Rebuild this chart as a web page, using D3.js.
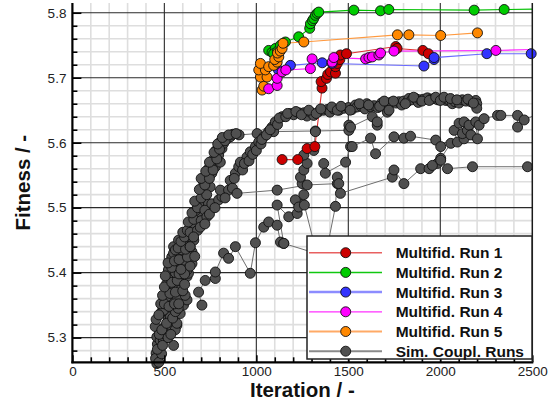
<!DOCTYPE html>
<html>
<head>
<meta charset="utf-8">
<script src="https://cdn.jsdelivr.net/npm/d3@7"></script>
<style>
  body { margin: 0; background: #fff; }
  svg { display: block; }
</style>
</head>
<body>
<div id="chart"></div>
<script>
// ---- data: [iteration, fitness] ----
const run1 = [[1140,5.574],[1225,5.574],[1276,5.591],[1318,5.594],[1357,5.684],[1352,5.694],[1381,5.699],
  [1388,5.705],[1403,5.709],[1430,5.707],[1430,5.717],[1421,5.724],[1440,5.722],[1454,5.728],[1457,5.735],
  [1490,5.737],[1758,5.748],[1765,5.745],[1905,5.742],[1935,5.737]];
const run2 = [[1067,5.742],[1085,5.739],[1103,5.745],[1094,5.737],[1115,5.741],[1131,5.750],[1158,5.755],
  [1230,5.763],[1290,5.776],[1294,5.783],[1305,5.788],[1312,5.791],[1321,5.796],[1330,5.799],[1339,5.801],
  [1530,5.804],[1675,5.803],[1720,5.805],[2184,5.804],[2347,5.805],[2600,5.806]];
const run3 = [[1120,5.712],[1185,5.719],[1358,5.723],[1412,5.722],[1911,5.718],[1966,5.728],[1966,5.731],
  [2253,5.737],[2494,5.737]];
const run4 = [[1067,5.683],[1113,5.688],[1113,5.699],[1140,5.709],[1160,5.712],[1294,5.714],[1303,5.729],
  [1412,5.724],[1421,5.731],[1594,5.729],[1612,5.731],[1630,5.732],[1666,5.735],[1675,5.738],[1748,5.741],
  [2302,5.742],[2600,5.744]];
const run5 = [[1031,5.681],[1040,5.687],[1022,5.701],[1058,5.701],[1013,5.712],[1049,5.712],[1022,5.722],
  [1067,5.717],[1094,5.719],[1113,5.724],[1100,5.728],[1122,5.732],[1115,5.738],[1130,5.741],[1140,5.745],
  [1145,5.753],[1258,5.755],[1767,5.766],[1829,5.766],[2002,5.765],[2202,5.769]];

// simultaneous coupling runs (gray)
const simA = [[459,5.260],[468,5.270],[455,5.276],[477,5.286],[462,5.290],[459,5.301],[477,5.296],[495,5.296],
  [505,5.305],[550,5.288],[450,5.317],[504,5.317],[540,5.317],[568,5.319],[559,5.312],[568,5.322],[522,5.330],
  [532,5.332],[486,5.340],[495,5.342],[586,5.337],[540,5.353],[595,5.358],[604,5.350],[623,5.358],[568,5.363],
  [513,5.363],[613,5.365],[550,5.378],[522,5.378],[586,5.373],[513,5.383],[550,5.394],[595,5.388],[623,5.394],
  [532,5.399],[631,5.399],[522,5.404],[623,5.404],[568,5.409],[595,5.412],[650,5.414],[604,5.419],[540,5.424],
  [550,5.430],[586,5.430],[650,5.432],[595,5.435],[550,5.440],[604,5.442],[623,5.450],[577,5.450],[631,5.455],
  [650,5.470],[659,5.470],[677,5.486],[686,5.486],[667,5.495],[704,5.501],[690,5.508],[713,5.517],[740,5.506],
  [722,5.525],[749,5.532],[713,5.540],[731,5.547],[758,5.553],[740,5.560],[777,5.563],[760,5.572],[804,5.570],
  [795,5.581],[780,5.588],[813,5.591],[800,5.600],[822,5.599],[840,5.606],[858,5.609],[873,5.613],[906,5.612],
  [1004,5.614],[1140,5.640],[1185,5.645],[1203,5.643],[1230,5.646],[1258,5.646],[1275,5.641],[1294,5.647],
  [1312,5.642],[1340,5.648],[1366,5.650],[1385,5.651],[1400,5.647],[1420,5.652],[1450,5.650],[1476,5.653],
  [1500,5.654],[1520,5.651],[1539,5.658],[1548,5.655],[1570,5.656],[1590,5.652],[1600,5.660],[1621,5.655],
  [1640,5.657],[1660,5.654],[1680,5.661],[1703,5.660],[1715,5.655],[1730,5.662],[1760,5.661],[1775,5.663],
  [1790,5.658],[1800,5.664],[1821,5.663],[1829,5.668],[1845,5.666],[1866,5.668],[1880,5.662],[1890,5.666],
  [1910,5.667],[1930,5.669],[1950,5.667],[1966,5.668],[1985,5.666],[2010,5.668],[2030,5.665],[2047,5.665],
  [2065,5.660],[2080,5.663],[2102,5.661],[2120,5.666],[2140,5.664],[2166,5.663],[2193,5.665],[2198,5.660],
  [2198,5.653]];
const simB = [[640,5.440],[659,5.455],[695,5.470],[731,5.486],[758,5.506],[795,5.512],[813,5.517],[804,5.527],
  [849,5.527],[858,5.542],[886,5.553],[904,5.563],[913,5.570],[949,5.578],[967,5.586],[995,5.594],[1013,5.601],
  [1040,5.609],[1067,5.617],[1085,5.624],[1103,5.632],[1094,5.617],[1321,5.618],[1503,5.619],[1503,5.627],
  [1512,5.624],[1630,5.640],[1657,5.627],[1657,5.632],[1712,5.647],[1721,5.650]];
const simC = [[704,5.350],[686,5.370],[722,5.388],[777,5.391],[777,5.401],[822,5.430],[849,5.422],[886,5.440],
  [967,5.399],[995,5.446],[1040,5.470],[1067,5.478],[1113,5.473],[1131,5.447],[1149,5.445],[1113,5.504],
  [1176,5.486],[1222,5.491],[1231,5.506],[1212,5.512],[1230,5.501],[1258,5.520],[1249,5.537],[1240,5.547],
  [1258,5.558],[1276,5.568],[1258,5.581],[1312,5.588],[1321,5.617]];
const simD = [[895,5.522],[1113,5.527],[1276,5.535],[1440,5.537]];
const simE = [[1366,5.568],[1375,5.553],[1485,5.570],[1512,5.594],[1521,5.594],[1621,5.607],[1648,5.583],
  [1748,5.609],[1802,5.607],[1838,5.610],[1975,5.604],[2002,5.594],[2002,5.576],[1984,5.568],[2057,5.599],
  [2093,5.601],[2075,5.619],[2102,5.630],[2129,5.632],[2129,5.606],[2120,5.614],[2147,5.619],[2156,5.627],
  [2166,5.612],[2193,5.632],[2202,5.606],[2211,5.627],[2238,5.637],[2311,5.642],[2329,5.642],[2420,5.642],
  [2420,5.624],[2456,5.635],[2560,5.648]];
const simF = [[1365,5.410],[1430,5.502],[1440,5.547],[1448,5.537],[1457,5.522],[1739,5.547],[1748,5.558],
  [1802,5.537],[1893,5.560],[1939,5.560],[1957,5.565],[2002,5.573],[2039,5.560],[2175,5.563],[2474,5.563],
  [2600,5.565]];
const simG = [[1149,5.445],[1320,5.430]];
const simH = [[1261,5.504],[1345,5.410]];
const simJ = [[452,5.268],[470,5.262],[485,5.275],[462,5.282],[490,5.288],[472,5.305],[486,5.312],[520,5.300],
  [535,5.305],[455,5.328],[470,5.335],[512,5.322],[545,5.330],[560,5.340],[575,5.345],[480,5.352],[500,5.352],
  [525,5.348],[555,5.352],[578,5.352],[490,5.365],[530,5.368],[560,5.370],[600,5.372],[500,5.378],[540,5.385],
  [570,5.388],[610,5.382],[505,5.395],[560,5.400],[580,5.398],[610,5.398],[540,5.408],[590,5.405],[640,5.410],
  [520,5.415],[555,5.418],[580,5.420],[625,5.424],[665,5.425],[560,5.435],[575,5.438],[615,5.436],[640,5.440],
  [590,5.448],[610,5.455],[660,5.450],[600,5.462],[625,5.465],[640,5.462],[680,5.465],[630,5.478],[660,5.482],
  [700,5.480],[650,5.492],[680,5.500],[720,5.496],[665,5.510],[700,5.515],[730,5.520],[690,5.528],[720,5.535],
  [700,5.545],[745,5.545],[725,5.556],[765,5.558],[745,5.570],[785,5.575],[770,5.585],[800,5.590],[790,5.598],
  [830,5.603],[815,5.608],[850,5.612],[890,5.614]];
const simK = [[720,5.475],[745,5.490],[775,5.500],[830,5.515],[870,5.530],[880,5.545],[925,5.558],[935,5.568],
  [960,5.572],[980,5.582],[1000,5.588],[1025,5.598],[1030,5.605],[1055,5.612],[1075,5.620],[1115,5.628],
  [1125,5.638],[1160,5.640],[1170,5.645],[1215,5.648],[1245,5.643],[1285,5.650],[1325,5.645],[1350,5.652],
  [1410,5.655],[1440,5.650],[1460,5.656],[1510,5.650],[1560,5.660],[1610,5.658],[1670,5.656],[1695,5.664],
  [1745,5.664],[1810,5.660],[1855,5.670],[1900,5.664],[1940,5.665],[1975,5.670],[2000,5.665],[2020,5.670],
  [2055,5.668],[2090,5.666],[2150,5.667],[2180,5.661]];

const simRuns = [simA, simJ, simB, simK, simC, simD, simE, simF, simG, simH];

const seriesNames = ["Multifid. Run 1", "Multifid. Run 2", "Multifid. Run 3",
  "Multifid. Run 4", "Multifid. Run 5", "Sim. Coupl. Runs"];
const xTicks = [0, 500, 1000, 1500, 2000, 2500];
const yTicks = [5.3, 5.4, 5.5, 5.6, 5.7, 5.8];

// ---- layout ----
const W = 548, H = 405;
const margin = { top: 3, left: 72.4 };
const width = 459.9, height = 359.3;
const font = "'Liberation Sans', Arial, Helvetica, sans-serif";

const markerFill = ["#cc0000", "#00cc00", "#3333ff", "#ff00ff", "#ff8800", "#505050"];
const lineColor = ["#e03030", "#00c000", "#6a6aff", "#ff22ff", "#ff9a40", "#6e6e6e"];
const legendLine = ["#e86060", "#10c810", "#8c8cff", "#ff30ff", "#ffaa66", "#8a8a8a"];
const legendLineW = [1.5, 1.5, 2.5, 1.2, 2, 2];

const svgEl = d3.select("#chart").append("svg")
  .attr("width", W).attr("height", H)
  .style("font-family", font);

const svg = svgEl.append("g").attr("transform", `translate(${margin.left},${margin.top})`);

const x = d3.scaleLinear().domain([0, 2500]).range([0, width]);
const y = d3.scaleLinear().domain([5.262, 5.815]).range([height, 0]);

svg.append("defs").append("clipPath").attr("id", "plotclip")
  .append("rect").attr("width", width).attr("height", height);

// grid
const xMinor = d3.range(0, 2501, 100).filter(v => v % 500 !== 0);
const yMinor = d3.range(5.28, 5.81, 0.02).map(v => +v.toFixed(2)).filter(v => Math.round(v * 100) % 10 !== 0);

const grid = svg.append("g");
grid.selectAll(".vminor").data(xMinor).join("line")
  .attr("x1", d => x(d)).attr("x2", d => x(d)).attr("y1", 0).attr("y2", height)
  .attr("stroke", "#dedede").attr("stroke-width", 1.6);
grid.selectAll(".hminor").data(yMinor).join("line")
  .attr("y1", d => y(d)).attr("y2", d => y(d)).attr("x1", 0).attr("x2", width)
  .attr("stroke", "#dedede").attr("stroke-width", 1.6);
grid.selectAll(".vmajor").data(xTicks.slice(1, -1)).join("line")
  .attr("x1", d => x(d)).attr("x2", d => x(d)).attr("y1", 0).attr("y2", height)
  .attr("stroke", "#3c3c3c").attr("stroke-width", 1.2);
grid.selectAll(".hmajor").data(yTicks).join("line")
  .attr("y1", d => y(d)).attr("y2", d => y(d)).attr("x1", 0).attr("x2", width)
  .attr("stroke", "#2a2a2a").attr("stroke-width", 1.1);

// series
const lineGen = d3.line().x(d => x(d[0])).y(d => y(d[1]));
const lines = svg.append("g").attr("clip-path", "url(#plotclip)");
const dots = svg.append("g");

function drawSeries(data, i, lw) {
  lines.append("path").datum(data)
    .attr("fill", "none").attr("stroke", lineColor[i]).attr("stroke-width", lw)
    .attr("d", lineGen);
}
function drawDots(data, i) {
  dots.append("g").selectAll("circle")
    .data(data.filter(d => d[0] <= 2500))
    .join("circle")
    .attr("cx", d => x(d[0])).attr("cy", d => y(d[1])).attr("r", 5)
    .attr("fill", markerFill[i]).attr("stroke", "#111").attr("stroke-width", 0.9);
}

simRuns.forEach(r => drawSeries(r, 5, 1));
simRuns.forEach(r => drawDots(r, 5));

const runs = [run1, run2, run3, run4, run5];
const drawOrder = [0, 1, 2, 4, 3];
drawOrder.forEach(i => drawSeries(runs[i], i, 1.1));
drawOrder.forEach(i => drawDots(runs[i], i));

// axes
const yAxis = d3.axisLeft(y).tickValues(yTicks).tickSize(-9).tickPadding(6).tickFormat(d3.format(".1f"));
const yAxisMinor = d3.axisLeft(y).tickValues(yMinor).tickSize(-5).tickFormat("");
const xAxis = d3.axisBottom(x).tickValues(xTicks).tickSize(-7).tickPadding(4).tickFormat(d3.format("d"));
const xAxisMinor = d3.axisBottom(x).tickValues(xMinor).tickSize(-5).tickFormat("");

function styleAxis(g) {
  g.select(".domain").remove();
  g.selectAll(".tick line").attr("stroke", "#000").attr("stroke-width", 1.6);
  g.selectAll("text").attr("font-size", "13.5px").attr("fill", "#222").attr("font-family", font);
}
svg.append("g").call(yAxisMinor).call(styleAxis);
svg.append("g").call(yAxis).call(styleAxis);
svg.append("g").attr("transform", `translate(0,${height})`).call(xAxisMinor).call(styleAxis);
svg.append("g").attr("transform", `translate(0,${height})`).call(xAxis).call(styleAxis);

svg.append("line").attr("x1", 0).attr("x2", 0).attr("y1", 0).attr("y2", height + 1)
  .attr("stroke", "#000").attr("stroke-width", 2.2);
svg.append("line").attr("x1", -1).attr("x2", width + 1).attr("y1", height).attr("y2", height)
  .attr("stroke", "#000").attr("stroke-width", 2.2);
svg.append("line").attr("x1", width).attr("x2", width).attr("y1", 0).attr("y2", height)
  .attr("stroke", "#1a1a1a").attr("stroke-width", 1.5);

// axis titles
svgEl.append("text")
  .attr("x", margin.left + width / 2).attr("y", 397)
  .attr("text-anchor", "middle").attr("font-size", "20.5px").attr("font-weight", "bold")
  .attr("fill", "#111").text("Iteration / -");
svgEl.append("text")
  .attr("transform", `translate(30,${margin.top + height / 2}) rotate(-90)`)
  .attr("text-anchor", "middle").attr("font-size", "20.5px").attr("font-weight", "bold")
  .attr("fill", "#111").text("Fitness / -");

// legend
const legend = svgEl.append("g").attr("transform", "translate(307,236)");
legend.append("rect").attr("width", 225).attr("height", 123)
  .attr("fill", "#fff").attr("stroke", "#222").attr("stroke-width", 1.5);
const rows = legend.selectAll(".row").data(seriesNames).join("g")
  .attr("transform", (d, i) => `translate(0,${16.7 + i * 19.7})`);
rows.append("line").attr("x1", 2).attr("x2", 75).attr("y1", 0).attr("y2", 0)
  .attr("stroke", (d, i) => legendLine[i]).attr("stroke-width", (d, i) => legendLineW[i]);
rows.append("circle").attr("cx", 38.7).attr("cy", 0).attr("r", 5)
  .attr("fill", (d, i) => markerFill[i]).attr("stroke", "#111").attr("stroke-width", 0.9);
rows.append("text").attr("x", 88.7).attr("y", 0).attr("dy", "0.36em")
  .attr("font-size", "15.5px").attr("font-weight", "bold").attr("fill", "#111")
  .text(d => d);
</script>
</body>
</html>
